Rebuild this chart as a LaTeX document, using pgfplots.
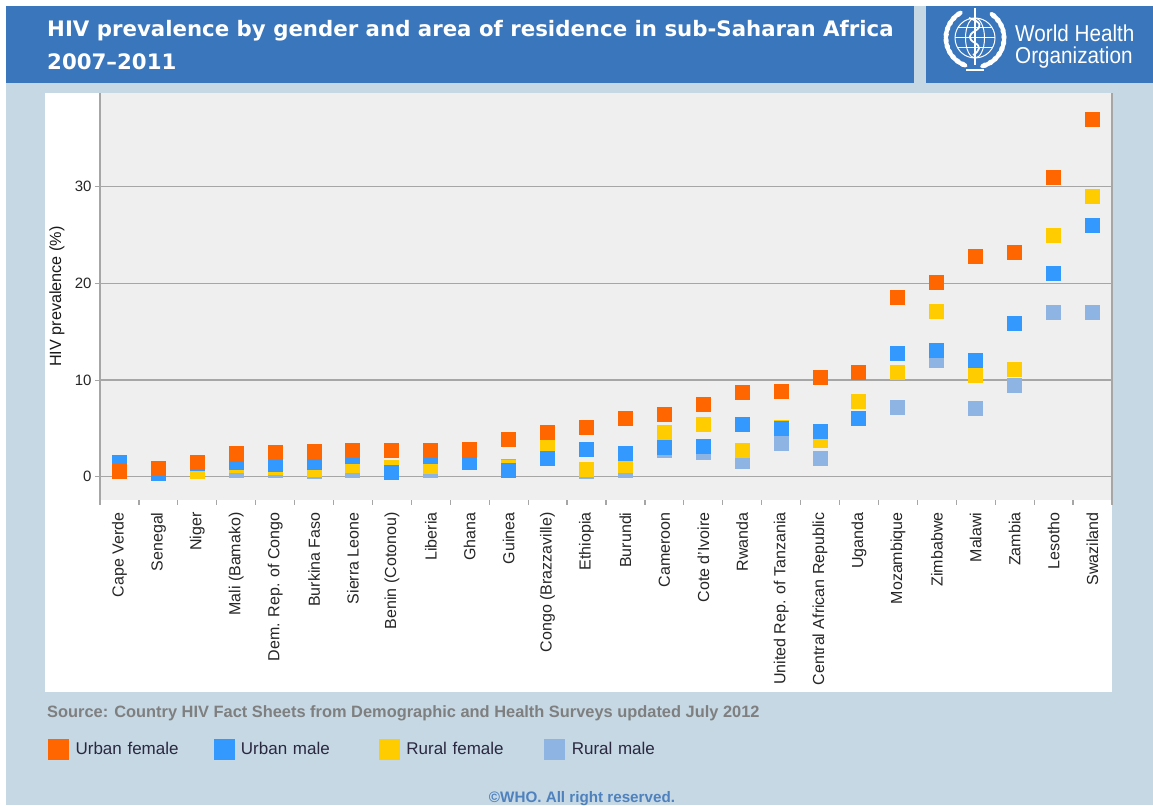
\documentclass[border=0pt]{standalone}
\usepackage{pgfplots}
\pgfplotsset{compat=1.18}
\usepackage{fontspec}
\setmainfont{Liberation Sans}
\newfontfamily\titlefont{DejaVu Sans}
\definecolor{bgblue}{HTML}{C5D8E4}
\definecolor{hdrblue}{HTML}{3A76BC}
\definecolor{plotgray}{HTML}{EFEFEF}
\definecolor{gridgray}{HTML}{A6A6A6}
\definecolor{ufcol}{HTML}{FF6600}
\definecolor{umcol}{HTML}{3399FF}
\definecolor{rfcol}{HTML}{FFCC00}
\definecolor{rmcol}{HTML}{8DB4E2}
\definecolor{srcgray}{HTML}{7F7F7F}
\definecolor{copyblue}{HTML}{4F81BD}
\definecolor{legtext}{HTML}{2B2840}
\begin{document}
\begin{tikzpicture}[x=1pt,y=1pt]
\fill[white] (0,0) rectangle (1153,805);
\fill[bgblue] (6,0) rectangle (1153,799);
\fill[hdrblue] (6,722) rectangle (914,799);
\fill[hdrblue] (926,722) rectangle (1153,799);
\fill[white] (45,113) rectangle (1112,712);
% title
\node[anchor=base west, text=white, font=\titlefont\bfseries\fontsize{21.3}{25}\selectfont, inner sep=0] at (47,768.3) {HIV prevalence by gender and area of residence in sub-Saharan Africa};
\node[anchor=base west, text=white, font=\titlefont\bfseries\fontsize{21.3}{25}\selectfont, inner sep=0] at (47,735.7) {2007–2011};
% WHO logo
\begin{scope}[shift={(975,767)}, white, line width=1pt]
  \draw (0,0) circle (20);
  \draw (0,0) ellipse (9.5 and 20);
  \draw (-20,0) -- (20,0);
  \draw (-17.3,10) -- (17.3,10);
  \draw (-17.3,-10) -- (17.3,-10);
  \draw[line width=2pt] (0,-27) -- (0,30);
  \draw[line width=1.8pt] (-6,20) .. controls (7,16) and (7,11) .. (0,7) .. controls (-7,3) and (-7,-1) .. (0,-5) .. controls (6,-8) and (5,-13) .. (-2,-17);
  \foreach \a in {125,137,...,250} {\fill[rotate=\a] (29,0) ellipse (2.6 and 5);}
  \foreach \a in {-70,-58,...,55} {\fill[rotate=\a] (29,0) ellipse (2.6 and 5);}
  \draw[line width=1.3pt] (-9,-32) -- (9,-32);
\end{scope}
\node[anchor=base west, text=white, font=\fontsize{23}{25}\selectfont, inner sep=0, xscale=0.9] at (1015,763.3) {World Health};
\node[anchor=base west, text=white, font=\fontsize{23}{25}\selectfont, inner sep=0, xscale=0.9] at (1015,741.7) {Organization};
% source and copyright
\node[anchor=west, inner sep=0, font=\bfseries\fontsize{16.4}{19}\selectfont, text=srcgray] at (47,92) {Source: Country HIV Fact Sheets from Demographic and Health Surveys updated July 2012};
\node[anchor=base, inner sep=0, font=\bfseries\fontsize{15.2}{18}\selectfont, text=copyblue] at (582,2.5) {©WHO. All right reserved.};
\begin{axis}[
  at={(100pt,305pt)}, anchor=south west,
  scale only axis, width=1012pt, height=407pt,
  xmin=-0.5, xmax=25.5, ymin=-2.4, ymax=39.7,
  axis background/.style={fill=plotgray},
  axis x line*=bottom, axis y line*=left,
  x axis line style={draw=none},
  y axis line style={draw=gridgray, line width=1.3pt},
  ytick={0,10,20,30},
  ymajorgrids, grid style={draw=gridgray, line width=1.3pt},
  tick align=outside, major tick length=5pt,
  tick style={draw=gridgray, line width=1.2pt},
  /pgf/number format/assume math mode=true,
  xtick={-0.5,0.5,...,25.5}, xticklabels={},
  extra x ticks={0,1,...,25},
  extra x tick labels={Cape Verde,Senegal,Niger,Mali (Bamako),Dem. Rep. of Congo,Burkina Faso,Sierra Leone,Benin (Cotonou),Liberia,Ghana,Guinea,Congo (Brazzaville),Ethiopia,Burundi,Cameroon,Cote d'Ivoire,Rwanda,United Rep. of Tanzania,Central African Republic,Uganda,Mozambique,Zimbabwe,Malawi,Zambia,Lesotho,Swaziland},
  extra x tick style={major tick length=0pt, tick style={draw=none}, tick label style={rotate=90, anchor=east, font=\fontsize{16}{19}\selectfont, text=black!85, xshift=-9pt}},
  yticklabel style={font=\fontsize{15}{18}\selectfont, text=black!85},
  ylabel={HIV prevalence (\%)},
  every axis y label/.style={at={(axis description cs:-0.0425,0.5)}, rotate=90, anchor=center, font=\fontsize{16.2}{19}\selectfont, text=black!90},
  legend columns=4, reverse legend,
  legend style={at={(axis description cs:-0.0514,-0.612)}, anchor=west, draw=none, fill=none, inner sep=0pt, font=\fontsize{17}{20}\selectfont, text=legtext, column sep=0pt},
  clip=false,
]
\addplot[only marks, mark=square*, mark size=7pt, color=rmcol, mark options={line width=0pt},
  legend image code/.code={\fill[rmcol] (0pt,-10pt) rectangle (20pt,10pt); \path (25pt,0pt);}]
coordinates {(3,0.65)(4,0.65)(5,0.5)(6,0.65)(8,0.65)(10,1.05)(12,0.5)(13,0.7)(14,2.75)(15,2.5)(16,1.6)(17,3.45)(18,1.9)(20,7.2)(21,12.05)(22,7.05)(23,9.45)(24,17)(25,17)};
\addlegendentry[text width=136pt]{Rural male}
\addplot[only marks, mark=square*, mark size=7pt, color=rfcol, mark options={line width=0pt},
  legend image code/.code={\fill[rfcol] (0pt,-10pt) rectangle (20pt,10pt); \path (25pt,0pt);}]
coordinates {(2,0.5)(3,1.2)(4,1.0)(5,0.75)(6,1.15)(7,1.0)(8,1.05)(10,0.95)(11,3.3)(12,0.75)(13,1.2)(14,4.6)(15,5.45)(16,2.75)(17,5.15)(18,3.75)(19,7.75)(20,10.75)(21,17.05)(22,10.5)(23,11.05)(24,25)(25,29)};
\addlegendentry[text width=136pt]{Rural female}
\addplot[only marks, mark=square*, mark size=7pt, color=umcol, mark options={line width=0pt},
  legend image code/.code={\fill[umcol] (0pt,-10pt) rectangle (20pt,10pt); \path (25pt,0pt);}]
coordinates {(0,1.45)(1,0.35)(2,1.35)(3,1.5)(4,1.3)(5,1.45)(6,2.15)(7,0.45)(8,2.05)(9,1.45)(10,0.6)(11,1.9)(12,2.85)(13,2.45)(14,3.0)(15,3.15)(16,5.45)(17,5.0)(18,4.7)(19,6.05)(20,12.75)(21,13.05)(22,12.05)(23,15.9)(24,21)(25,26)};
\addlegendentry[text width=136pt]{Urban male}
\addplot[only marks, mark=square*, mark size=7pt, color=ufcol, mark options={line width=0pt},
  legend image code/.code={\fill[ufcol] (0pt,-10pt) rectangle (20pt,10pt); \path (25pt,0pt);}]
coordinates {(0,0.5)(1,0.9)(2,1.5)(3,2.4)(4,2.5)(5,2.6)(6,2.7)(7,2.7)(8,2.7)(9,2.85)(10,3.9)(11,4.6)(12,5.15)(13,6.0)(14,6.45)(15,7.45)(16,8.75)(17,8.85)(18,10.3)(19,10.75)(20,18.5)(21,20.05)(22,22.75)(23,23.15)(24,31)(25,37)};
\addlegendentry[text width=136pt]{Urban female}
\end{axis}
\draw[gridgray, line width=1.2pt] (1112,300) -- (1112,712);
\end{tikzpicture}
\end{document}
